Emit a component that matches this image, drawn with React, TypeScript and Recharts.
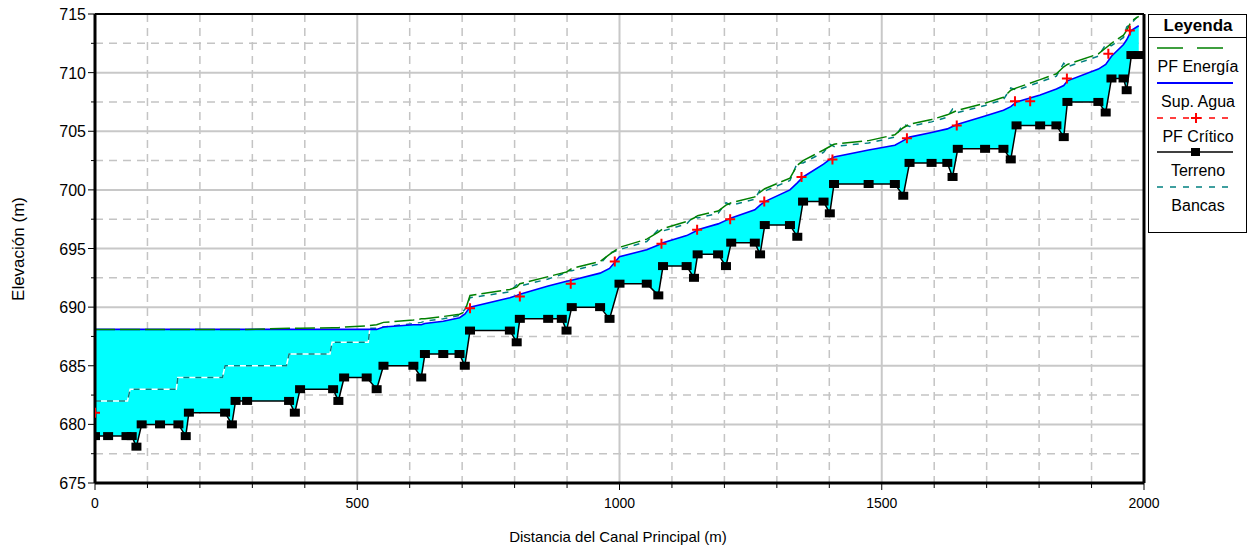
import { ComposedChart, Area, Line, XAxis, YAxis, CartesianGrid, ReferenceLine } from 'recharts';

// estaciones (m) de las secciones transversales y elevaciones (m)
const stations = [
  0, 25, 60, 70, 79, 89, 124, 159, 173, 179, 248, 261, 268, 290, 370, 381, 391, 454, 464, 475,
  518, 537, 550, 607, 622, 629, 664, 695, 705, 715, 791, 804, 810, 864, 890, 899, 909, 963, 981, 1000,
  1052, 1074, 1083, 1128, 1142, 1149, 1188, 1203, 1213, 1258, 1268, 1277, 1325, 1339, 1350, 1389, 1401, 1409, 1475, 1525,
  1541, 1553, 1595, 1625, 1635, 1645, 1697, 1732, 1746, 1757, 1802, 1833, 1847, 1854, 1913, 1927, 1938, 1961, 1967, 1976,
  1990,
];
const terrain = [
  679, 679, 679, 679, 678.1, 680, 680, 680, 679, 681, 681, 680, 682, 682, 682, 681, 683, 683, 682, 684,
  684, 683, 685, 685, 684, 686, 686, 686, 685, 688, 688, 687, 689, 689, 689, 688, 690, 690, 689, 692,
  692, 691, 693.5, 693.5, 692.5, 694.5, 694.5, 693.5, 695.5, 695.5, 694.5, 697, 697, 696, 699, 699, 698, 700.5, 700.5, 700.5,
  699.5, 702.3, 702.3, 702.3, 701.1, 703.5, 703.5, 703.5, 702.6, 705.5, 705.5, 705.5, 704.5, 707.5, 707.5, 706.6, 709.5, 709.5, 708.5, 711.5,
  711.5,
];
const waterSurface = [
  688.1, 688.1, 688.1, 688.1, 688.1, 688.1, 688.1, 688.1, 688.1, 688.1, 688.1, 688.1, 688.1, 688.1, 688.1, 688.1, 688.1, 688.1, 688.1, 688.1,
  688.1, 688.1, 688.3, 688.5, 688.5, 688.6, 688.8, 689.1, 689.4, 690.0, 690.8, 691.0, 691.1, 691.8, 692.1, 692.2, 692.3, 692.9, 693.3, 694.3,
  694.9, 695.3, 695.5, 696.1, 696.4, 696.6, 697.1, 697.4, 697.6, 698.3, 698.7, 699.0, 700.0, 700.6, 701.1, 702.2, 702.6, 702.8, 703.4, 703.8,
  704.2, 704.5, 704.9, 705.2, 705.4, 705.6, 706.3, 706.8, 707.1, 707.5, 708.1, 708.6, 708.9, 709.3, 710.3, 710.7, 711.4, 712.4, 712.8, 713.6,
  714.0,
];
const energyGrade = [
  688.1, 688.1, 688.1, 688.1, 688.1, 688.1, 688.1, 688.1, 688.1, 688.1, 688.1, 688.1, 688.1, 688.1, 688.2, 688.2, 688.2, 688.25, 688.25, 688.3,
  688.4, 688.5, 688.7, 688.9, 689.0, 689.0, 689.2, 689.4, 689.6, 691.0, 691.5, 691.7, 692.0, 692.6, 692.9, 693.0, 693.3, 693.9, 694.5, 695.1,
  695.8, 696.4, 696.7, 697.3, 697.6, 697.8, 698.2, 698.7, 698.9, 699.4, 699.8, 700.1, 701.0, 702.1, 702.5, 703.4, 703.7, 703.9, 704.2, 704.7,
  705.3, 705.6, 706.0, 706.4, 706.6, 706.8, 707.4, 707.9, 708.5, 708.7, 709.4, 709.9, 710.5, 710.7, 711.6, 712.1, 712.5, 713.2, 713.6, 714.4,
  714.8,
];
const bankStations = [
  0, 62, 67, 155, 158, 243, 248, 365, 370, 448, 452, 521, 524,
  537, 550, 607, 622, 629, 664, 695, 705, 715, 791, 804, 810, 864, 890, 899, 909, 963, 981, 1000,
  1052, 1074, 1083, 1128, 1142, 1149, 1188, 1203, 1213, 1258, 1268, 1277, 1325, 1339, 1350, 1389, 1401, 1409, 1475, 1525,
  1541, 1553, 1595, 1625, 1635, 1645, 1697, 1732, 1746, 1757, 1802, 1833, 1847, 1854, 1913, 1927, 1938, 1961, 1967, 1976,
  1990,
];
const bankElev = [
  682, 682, 683, 683, 684, 684, 685, 685, 686, 686, 687, 687, 688.2,
  688.2, 688.3, 688.6, 688.7, 688.8, 689.0, 689.3, 689.8, 690.8, 691.3, 691.9, 691.8, 692.4, 692.8, 693.1, 693.1, 693.7, 694.6, 694.9,
  695.6, 696.6, 696.5, 697.1, 697.8, 697.6, 698.0, 698.9, 698.7, 699.2, 700.0, 699.9, 700.8, 702.3, 702.3, 703.2, 703.9, 703.7, 704.0, 704.5,
  705.6, 705.4, 705.8, 706.2, 706.9, 706.6, 707.2, 707.7, 708.7, 708.5, 709.2, 709.7, 710.8, 710.5, 711.4, 712.4, 712.3, 713.0, 713.9, 714.2,
  714.9,
];
const critStations = [0, 715, 810, 907, 991, 1080, 1148, 1211, 1276, 1347, 1406, 1548, 1643, 1754, 1783, 1853, 1932, 1973];
const critElev = [681, 689.9, 690.9, 692.0, 693.9, 695.4, 696.6, 697.5, 699.0, 701.1, 702.6, 704.4, 705.5, 707.55, 707.55, 709.5, 711.6, 713.6];

const xTicks = [0, 100, 200, 300, 400, 500, 600, 700, 800, 900, 1000, 1100, 1200, 1300, 1400, 1500, 1600, 1700, 1800, 1900, 2000];
const yTicks = [675, 677.5, 680, 682.5, 685, 687.5, 690, 692.5, 695, 697.5, 700, 702.5, 705, 707.5, 710, 712.5, 715];
const xGridMajor = [500, 1000, 1500];
const xGridMinor = [100, 200, 300, 400, 600, 700, 800, 900, 1100, 1200, 1300, 1400, 1600, 1700, 1800, 1900];
const yGridMajor = [680, 685, 690, 695, 700, 705, 710];
const yGridMinor = [677.5, 682.5, 687.5, 692.5, 697.5, 702.5, 707.5, 712.5];

const FONT = '"Liberation Sans", Arial, sans-serif';

const profileData = stations.map((x, i) => ({
  x,
  bed: terrain[i],
  ws: waterSurface[i],
  egl: energyGrade[i],
  band: [terrain[i], waterSurface[i]],
}));
const bankData = bankStations.map((x, i) => ({ x, bank: bankElev[i] }));
const critData = critStations.map((x, i) => ({ x, crit: critElev[i] }));

function YTick(props: any) {
  const { x, y, payload } = props;
  const major = payload.value % 5 === 0;
  return (
    <g>
      <line x1={x - (major ? 7 : 4)} x2={x + 1} y1={y} y2={y} stroke="#000" strokeWidth={1} />
      {major && (
        <text x={x - 9} y={y} dy={6} textAnchor="end" fontSize={16} fontFamily={FONT} fill="#000">
          {payload.value}
        </text>
      )}
    </g>
  );
}

function XTick(props: any) {
  const { x, y, payload } = props;
  const major = payload.value % 500 === 0;
  return (
    <g>
      <line x1={x} x2={x} y1={y} y2={y + (major ? 7 : 5)} stroke="#000" strokeWidth={1} />
      {major && (
        <text x={x} y={y + 25} textAnchor="middle" fontSize={14} fontFamily={FONT} fill="#000">
          {payload.value}
        </text>
      )}
    </g>
  );
}

function TerrainDot(props: any) {
  const { cx, cy } = props;
  if (cx == null || cy == null) return null;
  return <rect x={cx - 5} y={cy - 4} width={10} height={8} fill="#000" />;
}

function CritDot(props: any) {
  const { cx, cy } = props;
  if (cx == null || cy == null) return null;
  return (
    <path d={`M${cx - 5},${cy}H${cx + 5}M${cx},${cy - 5}V${cy + 5}`} stroke="#ff0000" strokeWidth={2} fill="none" />
  );
}

function LegendBox() {
  const rows = [
    { label: 'PF Energía', y: 34 },
    { label: 'Sup. Agua', y: 69 },
    { label: 'PF Crítico', y: 104 },
    { label: 'Terreno', y: 138 },
    { label: 'Bancas', y: 173 },
  ];
  return (
    <svg width={100} height={220} style={{ position: 'absolute', left: 1148, top: 14 }}>
      <rect x={0.5} y={0.5} width={98} height={218} fill="#fff" stroke="#000" />
      <text x={50} y={17} textAnchor="middle" fontWeight="bold" fontSize={17} fontFamily={FONT}>Leyenda</text>
      <line x1={0} x2={99} y1={23.5} y2={23.5} stroke="#000" />
      <line x1={9} x2={85} y1={34} y2={34} stroke="#008000" strokeWidth={1.5} strokeDasharray="26 14" />
      <line x1={9} x2={85} y1={69} y2={69} stroke="#0000ff" strokeWidth={2} />
      <line x1={9} x2={85} y1={104} y2={104} stroke="#ff0000" strokeWidth={1.5} strokeDasharray="6 7" />
      <path d="M43,104H53M48,99V109" stroke="#ff0000" strokeWidth={2} />
      <line x1={9} x2={85} y1={138} y2={138} stroke="#000" strokeWidth={1.5} />
      <rect x={43} y={134} width={9} height={8} fill="#000" />
      <line x1={9} x2={85} y1={173} y2={173} stroke="#008080" strokeWidth={1.5} strokeDasharray="6 7" />
      {rows.map((r) => (
        <text key={r.label} x={50} y={r.y + 24} textAnchor="middle" fontSize={16} fontFamily={FONT}>
          {r.label}
        </text>
      ))}
    </svg>
  );
}

export default function App() {
  return (
    <div style={{ position: 'absolute', left: 0, top: 0, width: 1251, height: 546, background: '#fff', fontFamily: FONT }}>
      <ComposedChart width={1166} height={546} data={profileData} margin={{ top: 14, right: 22, bottom: 0, left: 35 }}>
        <CartesianGrid verticalValues={xGridMinor} horizontalValues={yGridMinor} stroke="#c4c4c4" strokeWidth={1.5} strokeDasharray="8 6" />
        <CartesianGrid verticalValues={xGridMajor} horizontalValues={yGridMajor} stroke="#c8c8c8" strokeWidth={2} />
        <XAxis
          dataKey="x"
          type="number"
          domain={[0, 2000]}
          ticks={xTicks}
          interval={0}
          height={63}
          tickSize={0}
          tickMargin={0}
          tick={<XTick />}
          axisLine={{ stroke: '#000', strokeWidth: 3 }}
          allowDataOverflow
        />
        <YAxis
          type="number"
          domain={[675, 715]}
          ticks={yTicks}
          interval={0}
          width={60}
          tickSize={0}
          tickMargin={0}
          tick={<YTick />}
          axisLine={{ stroke: '#000', strokeWidth: 3 }}
          allowDataOverflow
        />
        <Area dataKey="band" type="linear" fill="#00ffff" fillOpacity={1} stroke="none" isAnimationActive={false} />
        <Line data={bankData} dataKey="bank" type="linear" stroke="#ffffff" strokeWidth={1.5} dot={false} isAnimationActive={false} />
        <Line data={bankData} dataKey="bank" type="linear" stroke="#008080" strokeWidth={1.5} strokeDasharray="6 6" dot={false} isAnimationActive={false} />
        <Line dataKey="ws" type="linear" stroke="#0000ff" strokeWidth={1.6} dot={false} isAnimationActive={false} />
        <Line dataKey="bed" type="linear" stroke="#000" strokeWidth={1.5} dot={<TerrainDot />} isAnimationActive={false} />
        <Line dataKey="egl" type="linear" stroke="#008000" strokeWidth={1.5} strokeDasharray="20 5" dot={false} isAnimationActive={false} />
        <Line data={critData} dataKey="crit" type="linear" stroke="none" dot={<CritDot />} isAnimationActive={false} />
        <ReferenceLine y={715} stroke="#000" strokeWidth={2} />
        <ReferenceLine x={2000} stroke="#000" strokeWidth={3} />
      </ComposedChart>
      <svg width={1251} height={546} style={{ position: 'absolute', left: 0, top: 0, pointerEvents: 'none' }}>
        <text x={618} y={542} textAnchor="middle" fontSize={15} fontFamily={FONT}>
          Distancia del Canal Principal (m)
        </text>
        <text x={24} y={249} textAnchor="middle" fontSize={17} fontFamily={FONT} transform="rotate(-90 24 249)">
          Elevación (m)
        </text>
      </svg>
      <LegendBox />
    </div>
  );
}
